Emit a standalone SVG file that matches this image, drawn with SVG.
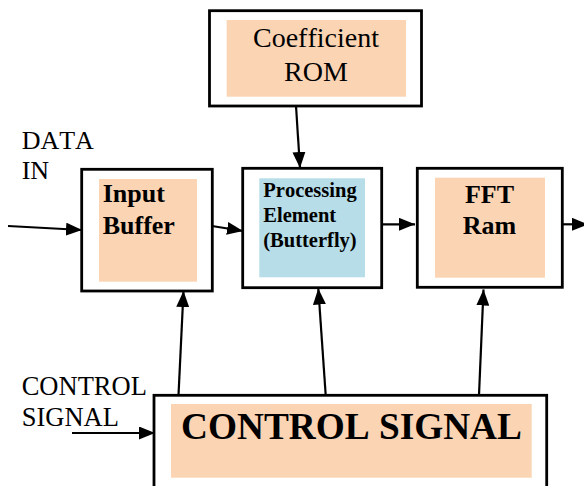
<svg xmlns="http://www.w3.org/2000/svg" width="584" height="486" viewBox="0 0 584 486">
<defs>
<style>
.box{fill:#fff;stroke:#000;stroke-width:2.8}
.peach{fill:#FBD4B4}
.blue{fill:#B6DDE8}
.t{font-family:"Liberation Serif","Times New Roman",serif;fill:#000;font-kerning:none}
.b{font-weight:bold}
.conn line{stroke:#000;stroke-width:2.2;marker-end:url(#ah)}
</style>
<marker id="ah" markerUnits="userSpaceOnUse" markerWidth="16" markerHeight="13" refX="16" refY="6.5" orient="auto">
<path d="M0,0 L16,6.5 L0,13 z" fill="#000"/>
</marker>
</defs>
<rect width="584" height="486" fill="#fff"/>
<g id="rom">
<rect class="box" x="209.5" y="10.7" width="212" height="95.3"/>
<rect class="peach" x="226.7" y="20" width="179.3" height="76.7"/>
<text class="t" x="316" y="46.7" font-size="28" text-anchor="middle">Coefficient</text>
<text class="t" x="316" y="81" font-size="28" text-anchor="middle">ROM</text>
</g>
<g id="data-in-label">
<text class="t" x="21.7" y="149.3" font-size="26">DATA</text>
<text class="t" x="21.7" y="179.3" font-size="26">IN</text>
</g>
<g id="input-buffer">
<rect class="box" x="81.7" y="169.3" width="130.6" height="121.7"/>
<rect class="peach" x="99" y="179" width="98" height="102.7"/>
<text class="t b" x="102.7" y="201.7" font-size="26">Input</text>
<text class="t b" x="102.7" y="234.3" font-size="26">Buffer</text>
</g>
<g id="processing-element">
<rect class="box" x="242.7" y="168.3" width="139" height="119.4"/>
<rect class="blue" x="259.3" y="178.3" width="105.7" height="99"/>
<text class="t b" x="263.3" y="196.7" font-size="20.5">Processing</text>
<text class="t b" x="263.3" y="221.7" font-size="20.5">Element</text>
<text class="t b" x="263.3" y="247.3" font-size="20.5">(Butterfly)</text>
</g>
<g id="fft-ram">
<rect class="box" x="417.3" y="168.3" width="145" height="119"/>
<rect class="peach" x="435" y="177.7" width="110" height="100"/>
<text class="t b" x="489.5" y="203.3" font-size="26" text-anchor="middle">FFT</text>
<text class="t b" x="489.5" y="234" font-size="26" text-anchor="middle">Ram</text>
</g>
<g id="control-label">
<text class="t" x="21.7" y="395" font-size="26.5">CONTROL</text>
<text class="t" x="21.7" y="425.7" font-size="26.5">SIGNAL</text>
</g>
<g id="control-signal">
<rect class="box" x="154" y="395.3" width="392.7" height="100"/>
<rect class="peach" x="171" y="404" width="360.7" height="73.7"/>
<text class="t b" x="181" y="439.3" font-size="37.3">CONTROL SIGNAL</text>
</g>
<g id="connectors" class="conn">
<line x1="296" y1="106" x2="300" y2="168"/>
<line x1="8" y1="226" x2="82" y2="230"/>
<line x1="212" y1="226" x2="243" y2="231"/>
<line x1="382" y1="224.3" x2="415" y2="224.3"/>
<line x1="562" y1="224.3" x2="588" y2="224.3"/>
<line x1="72" y1="433" x2="155" y2="433"/>
<line x1="178.5" y1="395" x2="183.5" y2="291"/>
<line x1="325.7" y1="395" x2="318.3" y2="288.5"/>
<line x1="479" y1="395" x2="483.5" y2="289.5"/>
</g>
</svg>
